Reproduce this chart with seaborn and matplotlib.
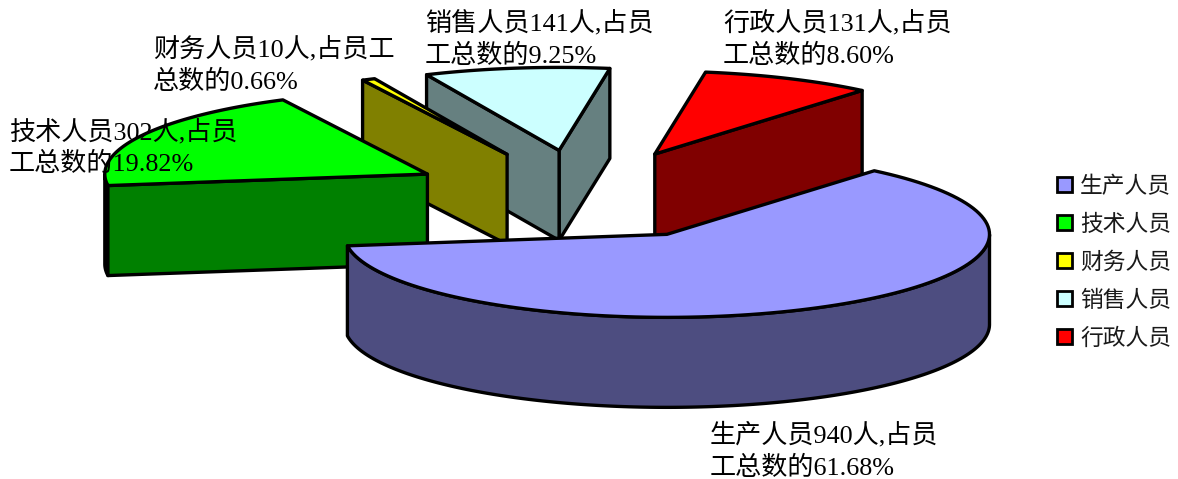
import numpy as np
import matplotlib
matplotlib.use("Agg")
import matplotlib.pyplot as plt
from matplotlib.patches import Polygon, Patch
import seaborn as sns

# Headcount by staff category
categories = ["生产人员", "技术人员", "财务人员", "销售人员", "行政人员"]
headcount = [940, 302, 10, 141, 131]
labels = [
    "生产人员940人,占员\n工总数的61.68%",
    "技术人员302人,占员\n工总数的19.82%",
    "财务人员10人,占员工\n总数的0.66%",
    "销售人员141人,占员\n工总数的9.25%",
    "行政人员131人,占员\n工总数的8.60%",
]
top_colors = ["#9999FF", "#00FF00", "#FFFF00", "#CCFFFF", "#FF0000"]
side_colors = ["#4D4D80", "#008000", "#808000", "#668080", "#800000"]

# Projection of the exploded pie, in pixels
CENTER_X, CENTER_Y = 582.2, 195
RX, RY = 322.6, 83
EXPLODE = 0.542
DEPTH = 90
START_ANGLE = 50.0
EDGE = dict(edgecolor="black", linewidth=2.4, joinstyle="round")

label_pos = [(710, 422), (9, 119), (153, 37), (425, 11), (723, 11)]

sns.set_theme(style="white")
plt.rcParams["font.family"] = ["Liberation Serif", "Noto Sans CJK SC"]
top_palette = sns.color_palette(top_colors)
side_palette = sns.color_palette(side_colors)

fig = plt.figure(figsize=(11.78, 4.79), dpi=100)
ax = fig.add_axes([0, 0, 1, 1])
ax.set_xlim(0, 1178)
ax.set_ylim(479, 0)
ax.axis("off")


def rim(apex, deg):
    """Screen position of the pie rim at the given angles, around an apex."""
    rad = np.radians(deg)
    return np.column_stack([apex[0] + RX * np.cos(rad), apex[1] - RY * np.sin(rad)])


def draw_slice(lo, hi, top, side, z):
    mid = np.radians((lo + hi) / 2)
    apex = (CENTER_X + EXPLODE * RX * np.cos(mid), CENTER_Y - EXPLODE * RY * np.sin(mid))
    drop = np.array([0, DEPTH])

    # Outer wall: only the part of the rim on the near half of the ellipse
    near = [a for a in np.linspace(lo, hi, 240) if np.sin(np.radians(a)) < 0]
    if near:
        arc = rim(apex, near)
        ax.add_patch(Polygon(np.vstack([arc, arc[::-1] + drop]), facecolor=side, zorder=z, **EDGE))

    # Cut faces that turn towards the viewer
    for angle, visible in ((lo, np.cos(np.radians(lo)) > 0), (hi, np.cos(np.radians(hi)) < 0)):
        if visible:
            end = rim(apex, [angle])[0]
            quad = [apex, end, end + drop, np.array(apex) + drop]
            ax.add_patch(Polygon(quad, facecolor=side, zorder=z, **EDGE))

    # Upper surface
    arc = rim(apex, np.linspace(lo, hi, 120))
    ax.add_patch(Polygon(np.vstack([[apex], arc]), facecolor=top, zorder=z + 0.5, **EDGE))


# Slices run clockwise from the start angle
values = np.array(headcount, dtype=float)
sweeps = values / values.sum() * 360
uppers = START_ANGLE - np.concatenate([[0], np.cumsum(sweeps)[:-1]])
lowers = uppers - sweeps

# Painted back to front: administration first, production last
for order, i in enumerate([4, 3, 2, 1, 0]):
    draw_slice(lowers[i], uppers[i], top_palette[i], side_palette[i], 2 + order)

for (x, y), text in zip(label_pos, labels):
    ax.text(x, y, text, fontsize=18.8, color="black", ha="left", va="top",
            linespacing=1.4, zorder=10)

handles = [Patch(facecolor=c, edgecolor="black", linewidth=2.0) for c in top_palette]
ax.legend(handles, categories, loc="center left", bbox_to_anchor=(1057 / 1178, 1 - 263 / 479),
          frameon=False, fontsize=16.4, handlelength=0.66, handleheight=0.66,
          handletextpad=0.36, labelspacing=0.73, borderpad=0, borderaxespad=0,
          labelcolor="#1a1a1a")

fig.savefig("out.png", dpi=100, facecolor="white")
